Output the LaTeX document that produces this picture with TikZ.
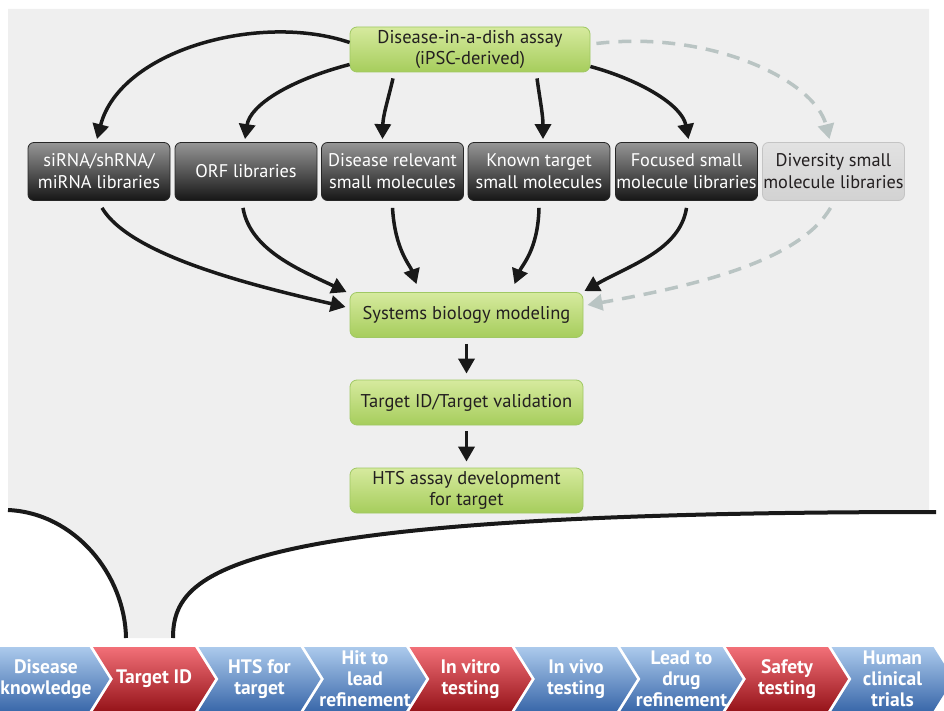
\documentclass[tikz,border=0pt]{standalone}
\usepackage{fontspec}
\setmainfont{PT Sans}
\usetikzlibrary{arrows.meta}
\definecolor{bg}{RGB}{239,239,239}
\definecolor{gtop}{RGB}{214,234,158}
\definecolor{gbot}{RGB}{166,205,92}
\definecolor{gborder}{RGB}{160,200,100}
\definecolor{dtop}{RGB}{150,150,150}
\definecolor{dbot}{RGB}{22,22,22}
\definecolor{ltop}{RGB}{226,226,226}
\definecolor{lbot}{RGB}{210,210,210}
\definecolor{lborder}{RGB}{196,196,196}
\definecolor{txtdark}{RGB}{35,31,32}
\definecolor{dashgray}{RGB}{185,196,195}
\definecolor{btop}{RGB}{172,202,236}
\definecolor{bbot}{RGB}{58,104,170}
\definecolor{rtop}{RGB}{242,112,120}
\definecolor{rbot}{RGB}{150,20,26}
\begin{document}
\begin{tikzpicture}[x=1pt,y=-1pt,
  greenbox/.style={rectangle, rounded corners=7pt, draw=gborder, line width=0.8pt,
    top color=gtop, bottom color=gbot, minimum width=233pt, minimum height=45pt,
    align=center, text=txtdark, inner sep=0pt, font=\fontsize{18.5}{21}\selectfont},
  darkbox/.style={rectangle, rounded corners=6pt, draw=black!85, line width=0.8pt,
    top color=dtop, bottom color=dbot, minimum width=142pt, minimum height=58pt,
    align=center, text=white, inner sep=0pt, font=\fontsize{18.3}{22}\selectfont},
  lightbox/.style={darkbox, draw=lborder, top color=ltop, bottom color=lbot, text=txtdark},
  arr/.style={line width=3.5pt, draw=black!90, -{Triangle[length=15pt,width=16pt]}},
  darr/.style={line width=3.5pt, draw=dashgray, dash pattern=on 13pt off 9pt,
    -{Triangle[length=15pt,width=16pt]}},
  chevtext/.style={align=center, text=white, inner sep=0pt,
    font=\fontsize{19.5}{21}\selectfont\bfseries},
  bline/.style={line width=4pt, draw=black!90}]
\useasboundingbox (0,0) rectangle (944,711);
\begin{scope}
\clip (0,0) rectangle (944,711);
% background
\fill[bg] (8,9) -- (929,9) -- (929,512) .. controls (230,512) and (173,570) .. (173,638)
  -- (126,638) .. controls (125,575) and (75,513) .. (8,510) -- cycle;
\draw[bline] (8,510) .. controls (75,513) and (125,575) .. (126,638);
\draw[bline] (173,638) .. controls (173,570) and (230,512) .. (936,512);

% nodes
\node[greenbox, minimum width=240pt] (dish) at (470,49.5) {Disease-in-a-dish assay\\(iPSC-derived)};
\node[darkbox] (si) at (99,171.5) {siRNA/shRNA/\\miRNA libraries};
\node[darkbox] (orf) at (246,171.5) {ORF libraries};
\node[darkbox] (dr) at (392.5,171.5) {Disease relevant\\small molecules};
\node[darkbox] (kt) at (539,171.5) {Known target\\small molecules};
\node[darkbox] (fo) at (686.5,171.5) {Focused small\\molecule libraries};
\node[lightbox] (dv) at (833.5,171.5) {Diversity small\\molecule libraries};
\node[greenbox] (sys) at (466.5,315) {Systems biology modeling};
\node[greenbox] (tid) at (466.5,402.5) {Target ID/Target validation};
\node[greenbox] (hts) at (466.5,490.5) {HTS assay development\\for target};

% top arrows
\draw[arr] ([yshift=7pt]dish.west) .. controls (260,12) and (120,50) .. ([xshift=-2pt,yshift=3pt]si.north);
\draw[arr] ([yshift=-15pt]dish.west) .. controls (290,80) and (250,105) .. ([xshift=-1pt,yshift=3pt]orf.north);
\draw[arr] ([xshift=-77pt,yshift=-6pt]dish.south) .. controls (388,100) and (383,115) .. ([xshift=-10pt,yshift=3pt]dr.north);
\draw[arr] ([xshift=67pt,yshift=-6pt]dish.south) .. controls (540,100) and (543,115) .. ([xshift=4pt,yshift=3pt]kt.north);
\draw[arr] ([yshift=-17pt]dish.east) .. controls (640,80) and (682,105) .. ([xshift=2pt,yshift=3pt]fo.north);
\draw[darr] ([xshift=6pt,yshift=6pt]dish.east) .. controls (710,30) and (815,80) .. ([xshift=-4pt,yshift=3pt]dv.north);

% bottom arrows
\draw[arr] ([xshift=3pt,yshift=-7pt]si.south) .. controls (130,255) and (250,285) .. ([xshift=-4pt,yshift=8pt]sys.west);
\draw[arr] ([xshift=-3pt,yshift=-7pt]orf.south) .. controls (250,250) and (300,270) .. ([xshift=-3pt]sys.north west);
\draw[arr] ([yshift=-7pt]dr.south) .. controls (395,250) and (410,265) .. ([xshift=-50pt,yshift=8pt]sys.north);
\draw[arr] ([yshift=-7pt]kt.south) .. controls (538,250) and (522,265) .. ([xshift=48pt,yshift=8pt]sys.north);
\draw[arr] ([yshift=-7pt]fo.south) .. controls (680,250) and (630,265) .. ([xshift=1pt,yshift=1pt]sys.north east);
\draw[darr] ([xshift=-3pt,yshift=-7pt]dv.south) .. controls (800,260) and (700,285) .. ([xshift=4pt,yshift=10pt]sys.east);

% vertical arrows
\draw[arr] ([yshift=-6pt]sys.south) -- ([yshift=6pt]tid.north);
\draw[arr] ([yshift=-6pt]tid.south) -- ([yshift=6pt]hts.north);

% chevrons
\path[top color=btop, bottom color=bbot] (0,647) -- (89.5,647) -- (109.5,679) -- (89.5,711) -- (0,711) -- cycle;
\node[chevtext] (c0) at (46,679) {Disease\\knowledge};
\foreach \i/\ct/\cb/\txt in {1/rtop/rbot/{Target ID}, 2/btop/bbot/{HTS for\\target},
  3/btop/bbot/{Hit to\\lead\\refinement}, 4/rtop/rbot/{In vitro\\testing},
  5/btop/bbot/{In vivo\\testing}, 6/btop/bbot/{Lead to\\drug\\refinement},
  7/rtop/rbot/{Safety\\testing}, 8/btop/bbot/{Human\\clinical\\trials}}{
  \pgfmathsetmacro{\L}{-12.5+105.5*\i}
  \path[top color=\ct, bottom color=\cb] (\L,647) -- ({\L+102},647) -- ({\L+122},679)
    -- ({\L+102},711) -- (\L,711) -- ({\L+20},679) -- cycle;
  \node[chevtext] (c\i) at ({\L+61},679) {\txt};
}
\end{scope}
\end{tikzpicture}
\end{document}
